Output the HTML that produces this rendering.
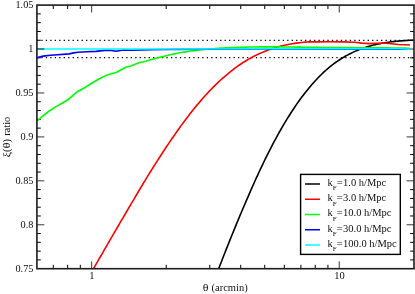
<!DOCTYPE html>
<html><head><meta charset="utf-8"><style>
html,body{margin:0;padding:0;background:#fff}
#w{position:relative;width:415px;height:294px;overflow:hidden;background:#fff;font-family:"Liberation Serif",serif;color:#000}
.t{opacity:0.95}
.t{position:absolute;font-size:10.5px;line-height:12px;height:12px;white-space:nowrap}
.sub{font-size:6.9px;position:relative;top:4.6px;line-height:0}
.g{display:inline-block;transform:scaleX(1.14);margin:0 0.4px;line-height:0}
#tx{position:absolute;left:0;top:0;width:415px;height:294px;filter:url(#soft)}
</style></head><body><div id="w">
<svg width="415" height="294" viewBox="0 0 415 294" style="position:absolute;left:0;top:0">
<defs><filter id="soft" x="0" y="0" width="100%" height="100%" color-interpolation-filters="sRGB"><feConvolveMatrix order="3" kernelMatrix="0.008 0.045 0.008 0.045 0.788 0.045 0.008 0.045 0.008" edgeMode="duplicate" preserveAlpha="true"/></filter><clipPath id="c"><rect x="36.9" y="5.1" width="377.1" height="263.6"/></clipPath></defs>
<path d="M36.9,259.91h3.9M414.0,259.91h-3.9M36.9,251.13h3.9M414.0,251.13h-3.9M36.9,242.34h3.9M414.0,242.34h-3.9M36.9,233.55h3.9M414.0,233.55h-3.9M36.9,215.98h3.9M414.0,215.98h-3.9M36.9,207.19h3.9M414.0,207.19h-3.9M36.9,198.41h3.9M414.0,198.41h-3.9M36.9,189.62h3.9M414.0,189.62h-3.9M36.9,172.05h3.9M414.0,172.05h-3.9M36.9,163.26h3.9M414.0,163.26h-3.9M36.9,154.47h3.9M414.0,154.47h-3.9M36.9,145.69h3.9M414.0,145.69h-3.9M36.9,128.11h3.9M414.0,128.11h-3.9M36.9,119.33h3.9M414.0,119.33h-3.9M36.9,110.54h3.9M414.0,110.54h-3.9M36.9,101.75h3.9M414.0,101.75h-3.9M36.9,84.18h3.9M414.0,84.18h-3.9M36.9,75.39h3.9M414.0,75.39h-3.9M36.9,66.61h3.9M414.0,66.61h-3.9M36.9,57.82h3.9M414.0,57.82h-3.9M36.9,40.25h3.9M414.0,40.25h-3.9M36.9,31.46h3.9M414.0,31.46h-3.9M36.9,22.67h3.9M414.0,22.67h-3.9M36.9,13.89h3.9M414.0,13.89h-3.9M53.28,268.7v-3.9M53.28,5.1v3.9M67.64,268.7v-3.9M67.64,5.1v3.9M80.30,268.7v-3.9M80.30,5.1v3.9M166.18,268.7v-3.9M166.18,5.1v3.9M209.78,268.7v-3.9M209.78,5.1v3.9M240.72,268.7v-3.9M240.72,5.1v3.9M264.72,268.7v-3.9M264.72,5.1v3.9M284.32,268.7v-3.9M284.32,5.1v3.9M300.90,268.7v-3.9M300.90,5.1v3.9M315.26,268.7v-3.9M315.26,5.1v3.9M327.93,268.7v-3.9M327.93,5.1v3.9" stroke="#000" stroke-width="1.0" fill="none"/>
<path d="M36.9,224.77h7.4M414.0,224.77h-7.4M36.9,180.83h7.4M414.0,180.83h-7.4M36.9,136.90h7.4M414.0,136.90h-7.4M36.9,92.97h7.4M414.0,92.97h-7.4M36.9,49.03h7.4M414.0,49.03h-7.4M91.63,268.7v-7.4M91.63,5.1v7.4M339.26,268.7v-7.4M339.26,5.1v7.4" stroke="#222" stroke-width="0.9" fill="none"/>
<path d="M36.85,40.45H414.0" stroke="#000" stroke-width="1.3" stroke-dasharray="1.3 3.17" fill="none"/>
<path d="M36.85,57.70H414.0" stroke="#000" stroke-width="1.3" stroke-dasharray="1.3 3.17" fill="none"/>
<g clip-path="url(#c)" fill="none" stroke-width="1.6" stroke-linejoin="round">
<path d="M218.2,269.89 L219.8,265.66 L221.5,261.44 L223.1,257.24 L224.8,253.05 L226.4,248.89 L228.1,244.75 L229.7,240.63 L231.4,236.53 L233.0,232.46 L234.7,228.41 L236.3,224.39 L238.0,220.40 L239.6,216.43 L241.3,212.50 L242.9,208.60 L244.6,204.73 L246.2,200.89 L247.9,197.09 L249.5,193.32 L251.1,189.59 L252.8,185.90 L254.4,182.25 L256.0,178.63 L257.7,175.06 L259.3,171.53 L260.9,168.05 L262.6,164.61 L264.2,161.22 L265.8,157.87 L267.5,154.57 L269.1,151.32 L270.8,148.12 L272.4,144.98 L274.0,141.88 L275.7,138.83 L277.3,135.84 L278.9,132.89 L280.6,130.00 L282.2,127.16 L283.8,124.37 L285.5,121.63 L287.1,118.94 L288.8,116.30 L290.4,113.72 L292.0,111.18 L293.7,108.70 L295.3,106.27 L296.9,103.89 L298.6,101.56 L300.2,99.29 L301.8,97.07 L303.5,94.90 L305.1,92.78 L306.8,90.72 L308.4,88.70 L310.0,86.74 L311.7,84.83 L313.3,82.98 L314.9,81.18 L316.5,79.43 L318.1,77.73 L319.7,76.08 L321.4,74.49 L323.0,72.94 L324.6,71.44 L326.2,69.99 L327.8,68.59 L329.5,67.23 L331.1,65.92 L332.7,64.65 L334.3,63.43 L335.9,62.25 L337.6,61.11 L339.2,60.01 L340.8,58.96 L342.4,57.94 L344.1,56.96 L345.7,56.02 L347.4,55.12 L349.0,54.25 L350.6,53.42 L352.3,52.62 L353.9,51.86 L355.5,51.13 L357.2,50.43 L358.8,49.77 L360.4,49.13 L362.1,48.53 L363.7,47.95 L365.4,47.40 L367.0,46.88 L368.6,46.39 L370.3,45.92 L371.9,45.48 L373.5,45.06 L375.2,44.66 L376.8,44.29 L378.4,43.94 L380.1,43.61 L381.7,43.30 L383.3,43.01 L385.0,42.73 L386.6,42.48 L388.3,42.24 L389.9,42.02 L391.5,41.81 L393.2,41.61 L394.8,41.43 L396.4,41.27 L398.1,41.11 L399.7,40.97 L401.3,40.83 L403.0,40.71 L404.6,40.59 L406.3,40.49 L407.9,40.38 L409.5,40.29 L411.2,40.20 L412.8,40.11" stroke="#000"/>
<path d="M93.7,268.29 L95.5,265.10 L97.4,261.91 L99.2,258.72 L101.1,255.53 L102.9,252.34 L104.7,249.16 L106.6,245.98 L108.4,242.80 L110.2,239.63 L112.1,236.46 L113.9,233.30 L115.7,230.14 L117.6,226.99 L119.4,223.85 L121.2,220.72 L123.1,217.59 L124.9,214.48 L126.7,211.37 L128.5,208.28 L130.4,205.20 L132.2,202.13 L134.0,199.07 L135.8,196.03 L137.6,193.00 L139.3,189.99 L141.1,186.99 L142.9,184.01 L144.7,181.04 L146.5,178.09 L148.3,175.16 L150.1,172.25 L151.9,169.36 L153.7,166.49 L155.5,163.64 L157.3,160.81 L159.1,158.01 L160.9,155.23 L162.7,152.47 L164.5,149.73 L166.3,147.02 L168.1,144.33 L169.9,141.67 L171.7,139.04 L173.5,136.44 L175.3,133.86 L177.1,131.31 L178.9,128.79 L180.6,126.31 L182.4,123.85 L184.2,121.42 L186.0,119.03 L187.8,116.67 L189.6,114.34 L191.4,112.04 L193.2,109.79 L195.0,107.56 L196.8,105.37 L198.6,103.22 L200.4,101.11 L202.2,99.03 L204.0,97.00 L205.8,95.00 L207.6,93.04 L209.4,91.12 L211.2,89.25 L213.0,87.42 L214.8,85.62 L216.6,83.88 L218.3,82.17 L220.1,80.51 L221.9,78.89 L223.7,77.32 L225.5,75.79 L227.3,74.29 L229.0,72.84 L230.8,71.43 L232.5,70.06 L234.2,68.73 L236.0,67.43 L237.7,66.18 L239.4,64.96 L241.2,63.79 L242.9,62.64 L244.7,61.54 L246.4,60.47 L248.2,59.43 L249.9,58.43 L251.7,57.47 L253.4,56.54 L255.2,55.64 L256.9,54.78 L258.7,53.95 L260.4,53.15 L262.2,52.38 L264.0,51.64 L265.8,50.94 L267.6,50.26 L269.4,49.62 L271.2,49.00 L273.0,48.41 L274.7,47.85 L276.5,47.32 L278.3,46.81 L280.1,46.33 L281.9,45.88 L283.7,45.45 L285.5,45.05 L287.3,44.68 L289.1,44.32 L290.9,44.00 L292.7,43.69 L294.5,43.41 L296.3,43.15 L298.1,42.91 L299.9,42.69 L301.6,42.50 L303.4,42.32 L305.2,42.16 L307.0,42.03 L308.8,41.91 L310.6,41.81 L318.0,41.90 L328.5,41.80 L342.9,41.90 L354.5,42.30 L361.7,43.10 L369.5,43.60 L376.7,43.30 L383.9,43.00 L391.1,43.70 L398.4,44.50 L410.0,45.00" stroke="#f00"/>
<path d="M37.2,121.00 L41.2,117.30 L48.5,111.50 L55.7,106.90 L62.9,102.80 L68.7,99.20 L73.0,95.30 L77.3,91.70 L84.5,87.70 L91.7,83.30 L98.9,79.00 L106.1,75.40 L111.9,73.50 L116.3,72.50 L120.4,70.20 L125.8,67.20 L130.8,66.00 L138.8,62.80 L146.0,61.20 L147.0,60.79 L149.8,60.05 L152.5,59.31 L155.2,58.57 L158.0,57.84 L160.7,57.12 L163.5,56.41 L166.2,55.73 L168.9,55.07 L171.7,54.44 L174.4,53.85 L177.2,53.30 L179.9,52.79 L182.6,52.31 L185.4,51.87 L188.1,51.46 L190.8,51.07 L193.6,50.71 L196.3,50.38 L199.1,50.06 L201.8,49.77 L204.5,49.49 L207.3,49.23 L210.0,48.98 L212.8,48.76 L215.5,48.55 L218.2,48.35 L221.0,48.17 L223.7,48.00 L226.5,47.85 L229.2,47.71 L231.9,47.58 L234.7,47.46 L237.4,47.36 L240.2,47.27 L242.9,47.19 L245.6,47.12 L248.4,47.05 L251.1,47.00 L253.9,46.96 L256.6,46.93 L259.3,46.90 L262.1,46.88 L264.8,46.87 L267.6,46.86 L270.3,46.87 L273.0,46.87 L275.8,46.89 L278.5,46.90 L281.2,46.92 L284.0,46.95 L286.7,46.98 L289.5,47.01 L292.2,47.04 L294.9,47.08 L297.7,47.12 L300.4,47.15 L303.2,47.19 L305.9,47.23 L308.6,47.27 L311.4,47.31 L314.1,47.35 L316.9,47.38 L319.6,47.41 L322.3,47.44 L325.1,47.47 L327.8,47.50 L330.6,47.52 L333.3,47.54 L336.0,47.56 L338.8,47.58 L341.5,47.60 L344.3,47.62 L347.0,47.63 L349.7,47.65 L352.5,47.67 L355.2,47.68 L358.0,47.70 L360.7,47.71 L363.4,47.73 L366.2,47.75 L368.9,47.76 L371.6,47.78 L374.4,47.80 L377.1,47.82 L379.9,47.85 L382.6,47.87 L385.3,47.89 L388.1,47.92 L390.8,47.95 L393.6,47.98 L396.3,48.02 L399.0,48.06 L401.8,48.10 L404.5,48.14 L407.3,48.19 L410.0,48.24" stroke="#0f0"/>
<path d="M37.4,57.50 L43.2,56.10 L50.5,55.30 L57.7,54.70 L69.3,53.90 L73.6,52.90 L77.9,52.20 L86.6,51.80 L96.0,51.40 L104.5,50.40 L110.2,50.30 L116.0,51.30 L123.3,50.05 L131.9,50.30 L140.6,49.95 L150.0,49.70 L165.0,49.50 L175.0,49.35 L210.0,49.25 L260.0,49.05 L410.0,49.10" stroke="#00f"/>
<path d="M37.0,49.00 L200.0,49.00 L260.0,48.70 L400.0,48.80 L410.0,49.10" stroke="#0ff"/>
</g>
<path d="M36.9,49.03h7.4" stroke="#2e7070" stroke-width="1.5"/>
<rect x="36.9" y="5.1" width="377.1" height="263.59999999999997" fill="none" stroke="#1c1c1c" stroke-width="1.6"/>
<rect x="300.6" y="174.4" width="99.7" height="80.0" fill="#fff" stroke="#000" stroke-width="1.4"/>
<path d="M305.0,184.00H320.0" stroke="#000" stroke-width="1.5"/>
<path d="M305.0,199.25H320.0" stroke="#f00" stroke-width="1.5"/>
<path d="M305.0,214.50H320.0" stroke="#0f0" stroke-width="1.5"/>
<path d="M305.0,229.75H320.0" stroke="#00f" stroke-width="1.5"/>
<path d="M305.0,245.00H320.0" stroke="#0ff" stroke-width="1.5"/>
</svg>
<div id="tx">
<div class="t" style="font-size:10.25px;right:381.6px;top:-0.85px">1.05</div>
<div class="t" style="font-size:10.25px;right:381.6px;top:43.15px">1</div>
<div class="t" style="font-size:10.25px;right:381.6px;top:87.15px">0.95</div>
<div class="t" style="font-size:10.25px;right:381.6px;top:131.15px">0.9</div>
<div class="t" style="font-size:10.25px;right:381.6px;top:175.15px">0.85</div>
<div class="t" style="font-size:10.25px;right:381.6px;top:219.15px">0.8</div>
<div class="t" style="font-size:10.25px;right:381.6px;top:263.15px">0.75</div>
<div class="t" style="left:71.8px;width:40px;text-align:center;top:270.0px">1</div>
<div class="t" style="left:319.5px;width:40px;text-align:center;top:270.0px">10</div>
<div class="t" style="left:185.4px;width:80px;text-align:center;top:281.5px"><span class="g">θ</span> (arcmin)</div>
<div class="t" style="left:-33.2px;width:80px;text-align:center;top:130.7px;word-spacing:0.6px;transform:rotate(-90deg)"><span class="g">ξ</span>(<span class="g">θ</span>)&nbsp;ratio</div>
<div class="t" style="left:327.6px;top:176.8px">k<span class="sub">F</span><span style="margin-right:0.5px">=</span>1.0 h/Mpc</div>
<div class="t" style="left:327.6px;top:192.1px">k<span class="sub">F</span><span style="margin-right:0.5px">=</span>3.0 h/Mpc</div>
<div class="t" style="left:327.6px;top:207.3px">k<span class="sub">F</span><span style="margin-right:0.5px">=</span>10.0 h/Mpc</div>
<div class="t" style="left:327.6px;top:222.6px">k<span class="sub">F</span><span style="margin-right:0.5px">=</span>30.0 h/Mpc</div>
<div class="t" style="left:327.6px;top:237.8px">k<span class="sub">F</span><span style="margin-right:0.5px">=</span>100.0 h/Mpc</div>
</div>
</div></body></html>
